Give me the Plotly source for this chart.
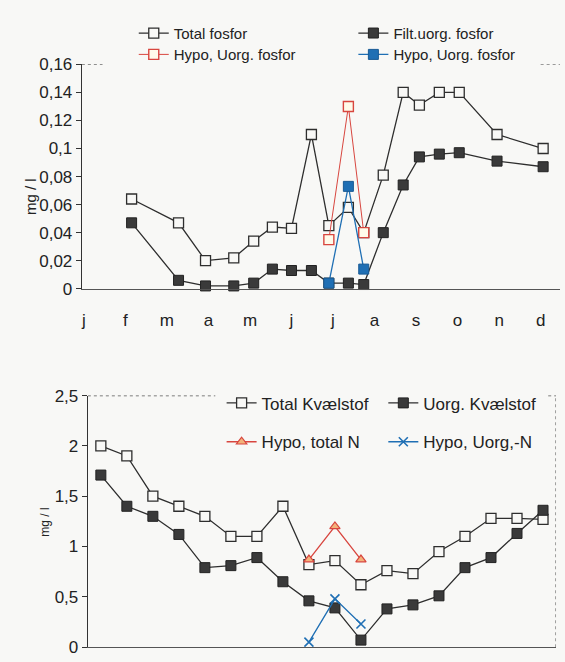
import plotly.graph_objects as go

# --- Phosphorus (top panel): x = position in months (0 = january) ---
months = ["j", "f", "m", "a", "m", "j", "j", "a", "s", "o", "n", "d"]
p_dates = [1.15, 2.28, 2.93, 3.61, 4.09, 4.54, 5.00, 5.48, 5.90, 6.37, 6.74,
           7.21, 7.69, 8.08, 8.56, 9.04, 9.95, 11.06]
total_p = [0.064, 0.047, 0.020, 0.022, 0.034, 0.044, 0.043, 0.110, 0.045, 0.058,
           0.040, 0.081, 0.140, 0.131, 0.140, 0.140, 0.110, 0.100]
filt_p = [0.047, 0.006, 0.002, 0.002, 0.004, 0.014, 0.013, 0.013, 0.004, 0.004,
          0.003, 0.040, 0.074, 0.094, 0.096, 0.097, 0.091, 0.087]
hypo_p_dates = [5.90, 6.37, 6.74]
hypo_total_p = [0.035, 0.130, 0.040]
hypo_uorg_p = [0.004, 0.073, 0.014]
p_ticks = [0, 0.02, 0.04, 0.06, 0.08, 0.10, 0.12, 0.14, 0.16]
p_ticktext = ["0", "0,02", "0,04", "0,06", "0,08", "0,1", "0,12", "0,14", "0,16"]

# --- Nitrogen (bottom panel): x = sample number ---
n_samples = list(range(18))
total_n = [2.00, 1.90, 1.50, 1.40, 1.30, 1.10, 1.10, 1.40, 0.82, 0.86, 0.62, 0.76,
           0.73, 0.95, 1.10, 1.28, 1.28, 1.27]
uorg_n = [1.71, 1.40, 1.30, 1.12, 0.79, 0.81, 0.89, 0.65, 0.46, 0.39, 0.07, 0.38,
          0.42, 0.51, 0.79, 0.89, 1.13, 1.36]
hypo_n_samples = [8, 9, 10]
hypo_total_n = [0.87, 1.20, 0.87]
hypo_uorg_n = [0.05, 0.48, 0.23]
n_ticks = [0, 0.5, 1, 1.5, 2, 2.5]
n_ticktext = ["0", "0,5", "1", "1,5", "2", "2,5"]

BG = "#f8f8f6"
INK = "#2e2e2e"
RED = "#d8463f"
BLUE = "#1f6fb4"
FONT = "Liberation Sans"

W, H = 565, 662


def px_x(p):
    return p / W


def px_y(p):
    return 1 - p / H


fig = go.Figure()

open_sq = dict(symbol="square", size=10, color=BG, line=dict(color=INK, width=1.3))
full_sq = dict(symbol="square", size=10, color="#3a3a3a", line=dict(color="#222", width=1))

# top panel traces
fig.add_trace(go.Scatter(x=p_dates, y=total_p, name="Total fosfor", mode="lines+markers",
                         line=dict(color=INK, width=1.3), marker=open_sq,
                         xaxis="x", yaxis="y", legend="legend", cliponaxis=False))
fig.add_trace(go.Scatter(x=p_dates, y=filt_p, name="Filt.uorg. fosfor", mode="lines+markers",
                         line=dict(color=INK, width=1.3), marker=full_sq,
                         xaxis="x", yaxis="y", legend="legend2", cliponaxis=False))
fig.add_trace(go.Scatter(x=hypo_p_dates, y=hypo_total_p, name="Hypo, Uorg. fosfor",
                         mode="lines+markers", line=dict(color=RED, width=1),
                         marker=dict(symbol="square", size=10, color="#fffbea",
                                     line=dict(color=RED, width=1.4)),
                         xaxis="x", yaxis="y", legend="legend3", cliponaxis=False))
fig.add_trace(go.Scatter(x=hypo_p_dates, y=hypo_uorg_p, name="Hypo, Uorg. fosfor",
                         mode="lines+markers", line=dict(color=BLUE, width=1.3),
                         marker=dict(symbol="square", size=10, color=BLUE,
                                     line=dict(color="#185a94", width=1)),
                         xaxis="x", yaxis="y", legend="legend4", cliponaxis=False))

# bottom panel traces
fig.add_trace(go.Scatter(x=n_samples, y=total_n, name="Total Kvælstof", mode="lines+markers",
                         line=dict(color=INK, width=1.3), marker=open_sq,
                         xaxis="x2", yaxis="y2", legend="legend5", cliponaxis=False))
fig.add_trace(go.Scatter(x=n_samples, y=uorg_n, name="Uorg. Kvælstof", mode="lines+markers",
                         line=dict(color=INK, width=1.3), marker=full_sq,
                         xaxis="x2", yaxis="y2", legend="legend6", cliponaxis=False))
fig.add_trace(go.Scatter(x=hypo_n_samples, y=hypo_total_n, name="Hypo, total N",
                         mode="lines+markers", line=dict(color=RED, width=1.3),
                         marker=dict(symbol="triangle-up", size=9, color="#f3b27a",
                                     line=dict(color=RED, width=1.2)),
                         xaxis="x2", yaxis="y2", legend="legend7", cliponaxis=False))
fig.add_trace(go.Scatter(x=hypo_n_samples, y=hypo_uorg_n, name="Hypo, Uorg,-N",
                         mode="lines+markers", line=dict(color=BLUE, width=1.3),
                         marker=dict(symbol="x-thin", size=9, color=BLUE,
                                     line=dict(color=BLUE, width=1.6)),
                         xaxis="x2", yaxis="y2", legend="legend8", cliponaxis=False))

axis_font = dict(family=FONT, size=17, color="#222")

# top panel: 83 px = january, 41.6 px per month
top_dom = [px_x(81), px_x(560)]
x0_top = -(83 - 81) / 41.6
x1_top = (560 - 83) / 41.6
# bottom panel: 18 evenly spaced samples
bot_dom = [px_x(87), px_x(556)]

legend_common = dict(font=dict(family=FONT, size=15, color="#222"), bgcolor="rgba(0,0,0,0)",
                     xanchor="left", yanchor="middle", orientation="v")
legend_big = dict(legend_common, font=dict(family=FONT, size=17, color="#222"))

fig.update_layout(
    width=W, height=H, autosize=False,
    margin=dict(l=0, r=0, t=0, b=0),
    paper_bgcolor=BG, plot_bgcolor=BG,
    font=dict(family=FONT, color="#222"),
    showlegend=True,
    xaxis=dict(domain=top_dom, range=[x0_top, x1_top], anchor="y",
               tickvals=list(range(12)), ticktext=months, tickfont=axis_font,
               ticks="outside", ticklen=16, tickcolor="rgba(0,0,0,0)",
               showline=True, linecolor="#555", linewidth=1.2,
               showgrid=False, zeroline=False),
    yaxis=dict(domain=[px_y(288), px_y(57)], range=[0, 0.16], anchor="x",
               tickvals=p_ticks, ticktext=p_ticktext, tickfont=axis_font,
               ticks="outside", ticklen=5, tickcolor="#333", tickwidth=1.2,
               showline=True, linecolor="#333", linewidth=1.3,
               showgrid=False, zeroline=False),
    xaxis2=dict(domain=bot_dom, range=[-0.5, 17.5], anchor="y2",
                showticklabels=False, ticks="",
                showline=True, linecolor="#555", linewidth=1.2,
                showgrid=False, zeroline=False),
    yaxis2=dict(domain=[px_y(657), px_y(398)], range=[0, 2.5], anchor="x2",
                tickvals=n_ticks, ticktext=n_ticktext, tickfont=axis_font,
                ticks="outside", ticklen=5, tickcolor="#333", tickwidth=1.2,
                showline=True, linecolor="#333", linewidth=1.3,
                showgrid=False, zeroline=False),
    legend=dict(legend_common, x=px_x(133), y=px_y(25)),
    legend2=dict(legend_common, x=px_x(353), y=px_y(25)),
    legend3=dict(legend_common, x=px_x(133), y=px_y(47)),
    legend4=dict(legend_common, x=px_x(353), y=px_y(47)),
    legend5=dict(legend_big, x=px_x(221), y=px_y(406)),
    legend6=dict(legend_big, x=px_x(383), y=px_y(406)),
    legend7=dict(legend_big, x=px_x(221), y=px_y(446)),
    legend8=dict(legend_big, x=px_x(383), y=px_y(446)),
    annotations=[
        dict(text="mg / l", xref="paper", yref="paper", x=px_x(19), y=px_y(172),
             textangle=-90, showarrow=False, font=dict(family=FONT, size=15, color="#222")),
        dict(text="mg / l", xref="paper", yref="paper", x=px_x(35), y=px_y(545),
             textangle=-90, showarrow=False, font=dict(family=FONT, size=12, color="#222")),
    ],
    shapes=[
        # short visible pieces of the top frame, top panel
        dict(type="line", xref="x", yref="y", x0=x0_top, x1=0.45, y0=0.16, y1=0.16,
             line=dict(color="#555", width=1, dash="dot")),
        dict(type="line", xref="x", yref="y", x0=11.0, x1=x1_top, y0=0.16, y1=0.16,
             line=dict(color="#666", width=1, dash="dot")),
        # frame of the bottom panel
        dict(type="line", xref="x2", yref="y2", x0=-0.5, x1=4.4, y0=2.5, y1=2.5,
             line=dict(color="#555", width=1.1, dash="dot")),
        dict(type="line", xref="x2", yref="y2", x0=17.2, x1=17.5, y0=2.5, y1=2.5,
             line=dict(color="#555", width=1.1, dash="dot")),
        dict(type="line", xref="x2", yref="y2", x0=17.5, x1=17.5, y0=0, y1=2.5,
             line=dict(color="#555", width=1.1, dash="dot")),
    ],
)

fig.write_html("out.html")
